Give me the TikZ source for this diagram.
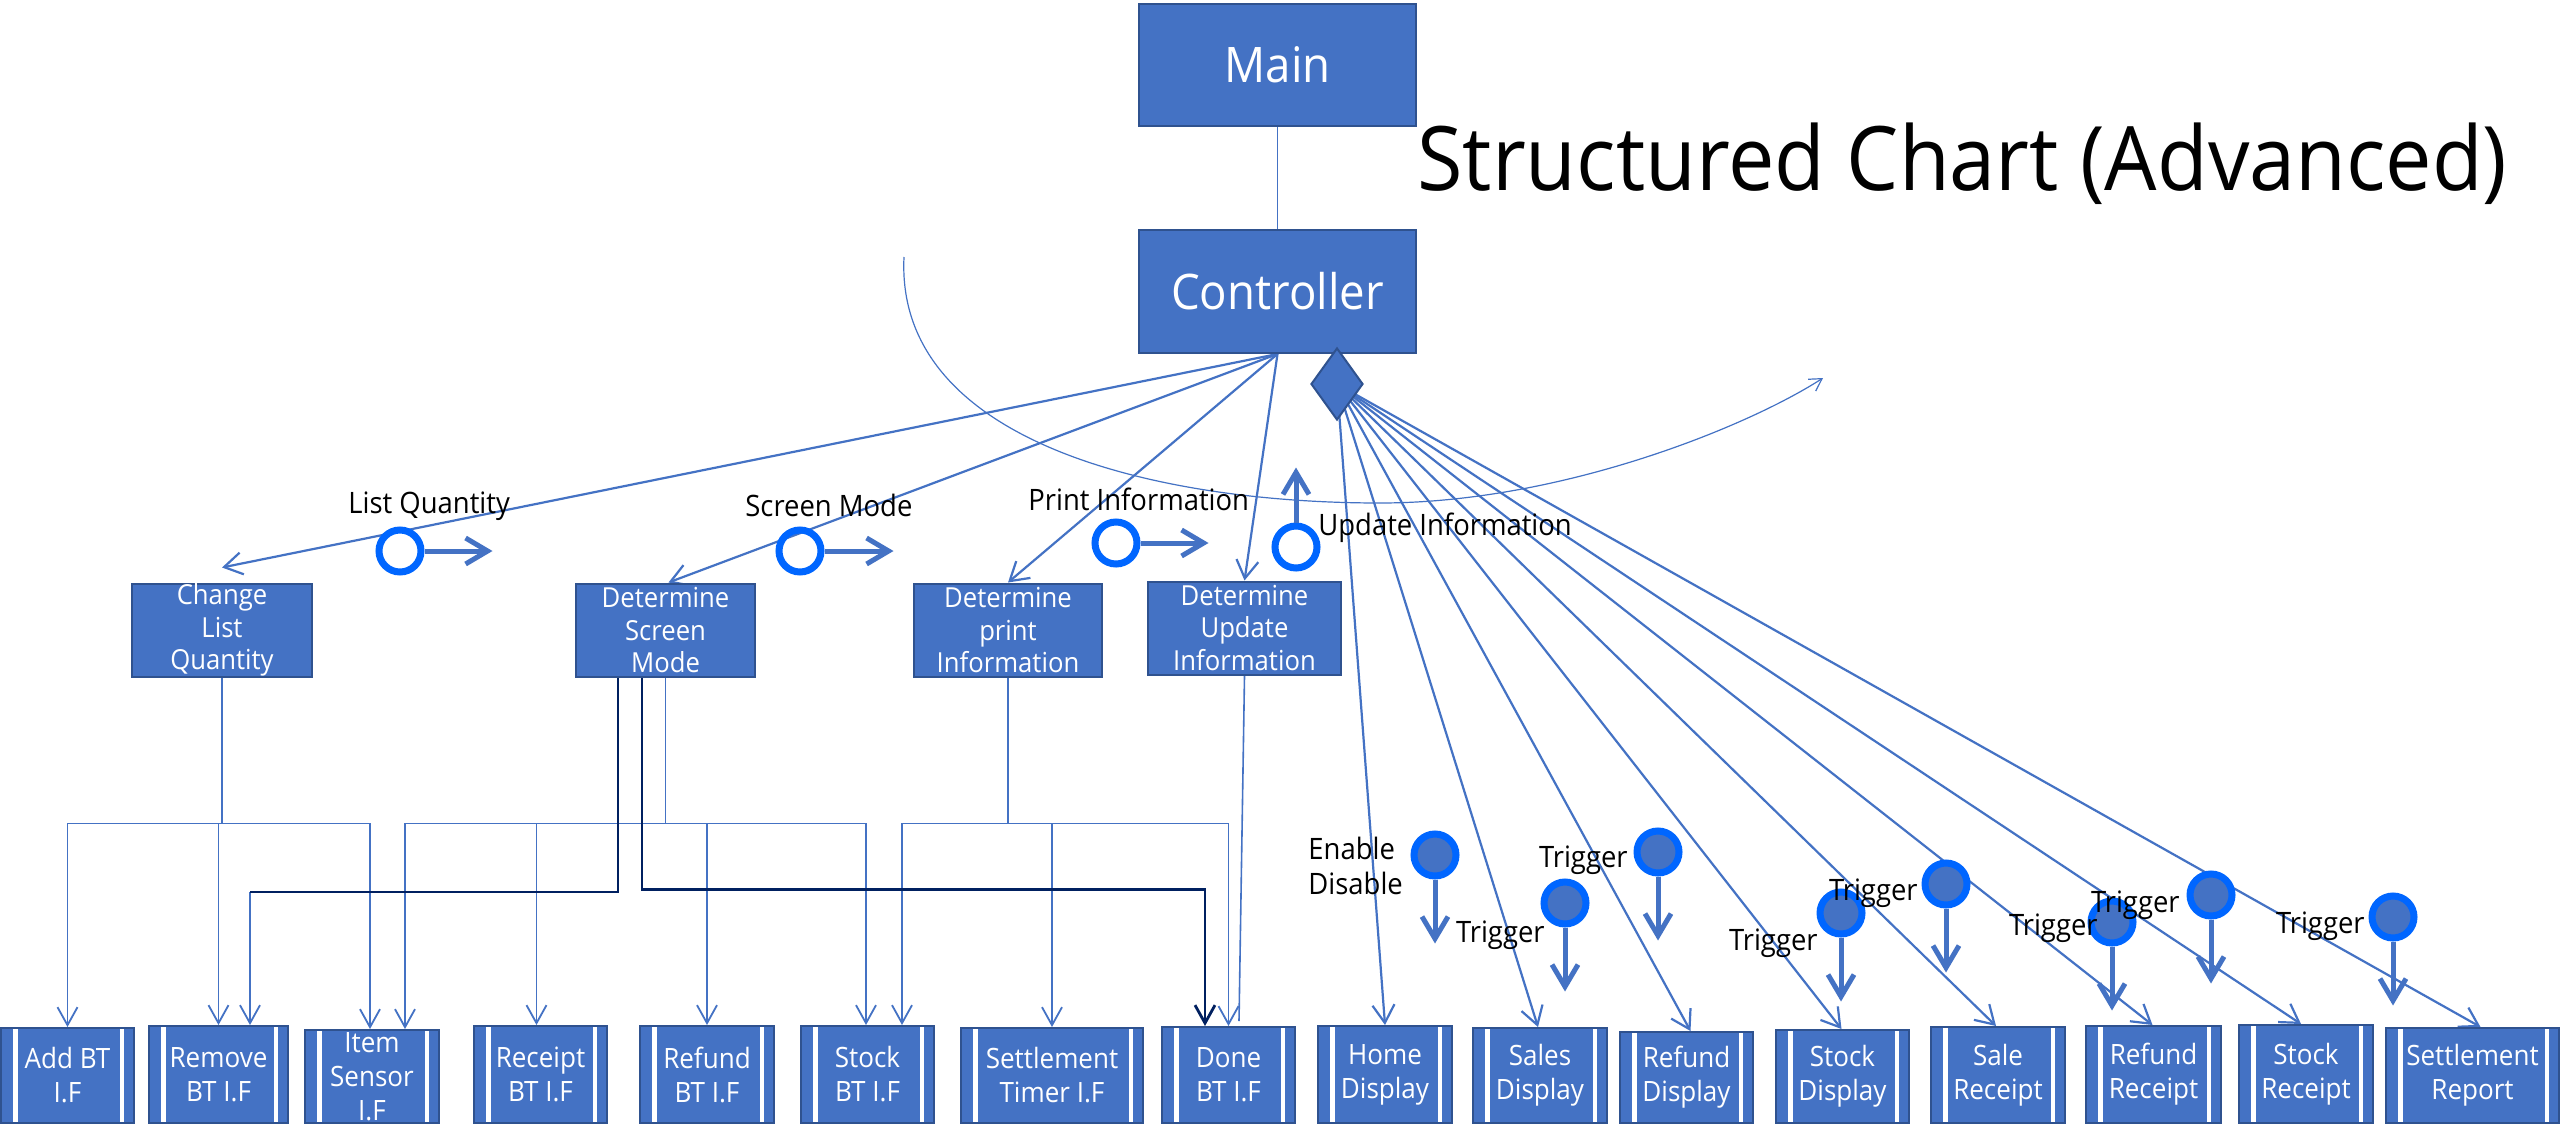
\documentclass[tikz,border=0pt]{standalone}
\usepackage{fontspec}
\setmainfont{Open Sans}[FakeStretch=0.93]
\usetikzlibrary{arrows.meta,shapes.geometric,calc}
\definecolor{boxblue}{HTML}{4472C4}
\definecolor{boxedge}{HTML}{2F528F}
\definecolor{ringblue}{HTML}{0066FF}
\definecolor{navy}{HTML}{002060}
\pgfdeclarelayer{bg}
\pgfdeclarelayer{wires}
\pgfsetlayers{bg,wires,main}
\tikzset{
  blk/.style={draw=boxedge, fill=boxblue, line width=1pt, text=white, inner sep=0pt, align=center},
  bigblk/.style={blk, font=\fontsize{24.5}{29}\selectfont},
  midblk/.style={blk, font=\fontsize{13.8}{16.2}\selectfont},
  proc/.style={blk, font=\fontsize{14}{17}\selectfont, path picture={
      \draw[white,line width=2.4pt] ([xshift=7.25pt]path picture bounding box.north west) -- ([xshift=7.25pt]path picture bounding box.south west);
      \draw[white,line width=2.4pt] ([xshift=-6pt]path picture bounding box.north east) -- ([xshift=-6pt]path picture bounding box.south east);}},
  lbl/.style={font=\fontsize{14.75}{17.5}\selectfont, inner sep=0pt, text=black},
  thinl/.style={draw=boxblue, line width=0.7pt},
  fan/.style={draw=boxblue, line width=1.1pt, -{Straight Barb[length=9pt,width=11pt]}},
  lconn/.style={draw=boxblue, line width=0.9pt, -{Straight Barb[length=9pt,width=10pt]}},
  plainl/.style={draw=boxblue, line width=0.8pt},
  navythin/.style={draw=navy, line width=0.7pt},
  navythick/.style={draw=navy, line width=1.4pt, -{Straight Barb[length=9pt,width=10pt]}},
  couple/.style={draw=boxblue, line width=2.5pt, -{Straight Barb[length=11pt,width=13pt]}},
  ocirc/.style={circle, draw=ringblue, line width=3.5pt, minimum size=21pt, inner sep=0pt},
  fcirc/.style={circle, draw=ringblue, fill=boxblue, line width=3.5pt, minimum size=21pt, inner sep=0pt},
  arcl/.style={draw=boxblue, line width=0.6pt, -{Straight Barb[length=6pt,width=7pt]}}
}
\begin{document}
\begin{tikzpicture}[x=0.5pt,y=-0.5pt]
\begin{pgfonlayer}{bg}
\fill[white] (0,0) rectangle (2560,1124);
\end{pgfonlayer}
\useasboundingbox (0,0) rectangle (2560,1124);

% title
\node[font=\fontsize{44.5}{50}\selectfont, anchor=base west, inner sep=0pt] (title) at (1417,190) {Structured Chart (Advanced)};

% top boxes
\node[bigblk, minimum width=138.5pt, minimum height=61pt] (Main) at (1277.5,65) {Main};
\node[bigblk, minimum width=138.5pt, minimum height=61.5pt] (Ctrl) at (1277.5,291.5) {Controller};
\node[diamond, draw=boxedge, fill=boxblue, line width=1pt, minimum width=26pt, minimum height=36pt, inner sep=0pt] (Dia) at (1337,384) {};

% middle boxes
\node[midblk, minimum width=90pt, minimum height=46.5pt] (CLQ) at (222,630) {Change\\List\\Quantity};
\node[midblk, minimum width=89.5pt, minimum height=46.5pt] (DSM) at (665.5,630) {Determine\\Screen\\Mode};
\node[midblk, minimum width=94pt, minimum height=46.5pt] (DPI) at (1008,630) {Determine\\print\\Information};
\node[midblk, minimum width=96.5pt, minimum height=46.5pt] (DUI) at (1244.5,628) {Determine\\Update\\Information};

% bottom boxes
\node[proc, minimum width=66.5pt, minimum height=47.5pt] (Add) at (67.5,1075.5) {Add BT\\I.F};
\node[proc, minimum width=69.5pt, minimum height=48.5pt] (Remove) at (218.5,1074.5) {Remove\\BT I.F};
\node[proc, minimum width=67pt, minimum height=46.5pt] (Item) at (372,1076.5) {Item\\Sensor\\I.F};
\node[proc, minimum width=66.5pt, minimum height=48.5pt] (Receipt) at (540.5,1074.5) {Receipt\\BT I.F};
\node[proc, minimum width=67pt, minimum height=48.5pt] (Refund) at (707,1074.5) {Refund\\BT I.F};
\node[proc, minimum width=66.5pt, minimum height=48.5pt] (StockBT) at (867.5,1074.5) {Stock\\BT I.F};
\node[proc, minimum width=91pt, minimum height=47.5pt] (Timer) at (1052,1075.5) {Settlement\\Timer I.F};
\node[proc, minimum width=66.5pt, minimum height=48pt] (Done) at (1228.5,1075) {Done\\BT I.F};
\node[proc, minimum width=67pt, minimum height=48.5pt] (Home) at (1385,1074.5) {Home\\Display};
\node[proc, minimum width=67pt, minimum height=47.5pt] (Sales) at (1540,1075.5) {Sales\\Display};
\node[proc, minimum width=66.5pt, minimum height=45.5pt] (RefDisp) at (1686.5,1077.5) {Refund\\Display};
\node[proc, minimum width=66.5pt, minimum height=46.5pt] (StockDisp) at (1842.5,1076.5) {Stock\\Display};
\node[proc, minimum width=67pt, minimum height=48pt] (SaleRec) at (1998,1075) {Sale\\Receipt};
\node[proc, minimum width=67.5pt, minimum height=48.5pt] (RefRec) at (2153.5,1074.5) {Refund\\Receipt};
\node[proc, minimum width=67pt, minimum height=49pt] (StockRec) at (2306,1074) {Stock\\Receipt};
\node[proc, minimum width=86.5pt, minimum height=47.5pt] (SetRep) at (2472.5,1075.5) {Settlement\\Report};

\begin{pgfonlayer}{wires}
\draw[thinl] (Main.south) -- (Ctrl.north);
\draw[fan] (Ctrl.south) -- ([yshift=7.5pt]CLQ.north);
\draw[fan] (Ctrl.south) -- ([xshift=1.5pt]DSM.north);
\draw[fan] (Ctrl.south) -- (DPI.north);
\draw[fan] (Ctrl.south) -- (DUI.north);
\foreach \t/\s in {Home/0,Sales/-1,RefDisp/2,StockDisp/-0.5,SaleRec/-1,RefRec/-0.5,StockRec/-2.5,SetRep/4}
  \draw[fan] (Dia.center) -- ([xshift=\s pt]\t.north);
% big arc
\draw[arcl] (904,257) .. controls (895,440) and (1150,503) .. (1380,503) .. controls (1560,503) and (1747,427) .. (1823,378);
% lower connectors
\draw[lconn] (CLQ.south) -- ++(0,146) -| (Add.north);
\draw[lconn] (CLQ.south) -- ++(0,146) -| (Remove.north);
\draw[lconn] (CLQ.south) -- ++(0,146) -| ([xshift=-1pt]Item.north);
\draw[lconn] (DSM.south) -- ++(0,146) -| ([xshift=16.5pt]Item.north);
\draw[lconn] (DSM.south) -- ++(0,146) -| ([xshift=-2pt]Receipt.north);
\draw[lconn] (DSM.south) -- ++(0,146) -| (Refund.north);
\draw[lconn] (DSM.south) -- ++(0,146) -| ([xshift=-0.75pt]StockBT.north);
\draw[lconn] (DPI.south) -- ++(0,146) -| ([xshift=17.25pt]StockBT.north);
\draw[lconn] (DPI.south) -- ++(0,146) -| (Timer.north);
\draw[lconn] (DPI.south) -- ++(0,146) -| (Done.north);
\draw[plainl] (DUI.south) -- ([xshift=5.25pt,yshift=2.5pt]Done.north);
\coordinate (nvc) at ($(Remove.north)+(31.5,-133)$);
\draw[lconn] (nvc) -- ([xshift=15.75pt]Remove.north);
\draw[navythin] ([xshift=-23.75pt]DSM.south) |- (nvc);
\draw[navythick] ([xshift=-11.75pt]DSM.south) -- ++(0,212) -| ([xshift=-11.75pt]Done.north);
\end{pgfonlayer}

% data couples (open)
\node[ocirc] (q1) at (400,551) {};
\draw[couple] (q1.east) -- ++(68,0);
\node[lbl, anchor=base west] (lq) at (348,513) {List Quantity};
\node[ocirc] (q2) at (800,551) {};
\draw[couple] (q2.east) -- ++(69,0);
\node[lbl, anchor=base west] (sm) at (745,516) {Screen Mode};
\node[ocirc] (q3) at (1116,543) {};
\draw[couple] (q3.east) -- ++(68,0);
\node[lbl, anchor=base west] (pi) at (1028,510) {Print Information};
\node[ocirc] (q4) at (1296,547) {};
\draw[couple] (q4.north) -- ++(0,-55);
\node[lbl, anchor=base west] (ui) at (1318,535) {Update Information};

% control flags (filled)
\foreach \n/\x/\y in {c1/1435/855, c2/1565/903, c3/1658/852, c4/1841/913, c5/1946/884, c6/2112/922, c7/2211/895, c8/2393/917}{
  \node[fcirc] (\n) at (\x,\y) {};
  \draw[couple] (\n.south) -- ++(0,64);
}
\node[lbl, anchor=base west] (en) at (1308,859) {Enable};
\node[lbl, anchor=base west] (dis) at (1308,894) {Disable};
\foreach \n/\x/\y in {t2/1545/942, t3/1628/867, t4/1818/950, t5/1918/900, t6/2098/935, t7/2180/912, t8/2365/933}
  \node[lbl, anchor=base east] (\n) at (\x,\y) {Trigger};
\end{tikzpicture}
\end{document}
